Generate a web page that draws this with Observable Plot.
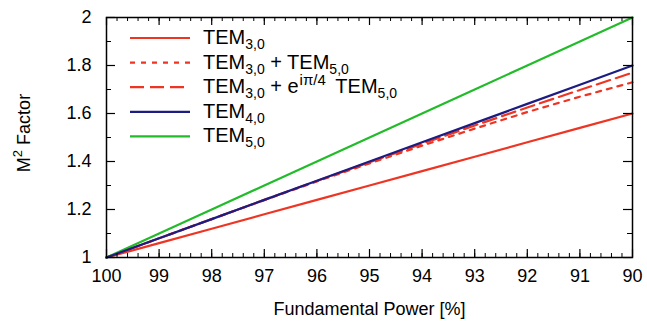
<!DOCTYPE html>
<html><head><meta charset="utf-8">
<script src="https://cdn.jsdelivr.net/npm/d3@7"></script>
<script src="https://cdn.jsdelivr.net/npm/@observablehq/plot@0.6"></script>
<style>
body{margin:0;background:#fff}
svg{font-family:"Liberation Sans",Arial,Helvetica,sans-serif}
</style>
</head><body><div id="chart"></div>
<script>
// ---- data ----
const power = [100, 99, 98, 97, 96, 95, 94, 93, 92, 91, 90];
const tem30 = [1, 1.06, 1.12, 1.18, 1.24, 1.30, 1.36, 1.42, 1.48, 1.54, 1.60];
const tem30plus50 = [1, 1.08, 1.16, 1.239, 1.317, 1.392, 1.466, 1.537, 1.606, 1.670, 1.730];
const tem30phase50 = [1, 1.08, 1.16, 1.24, 1.319, 1.397, 1.474, 1.550, 1.625, 1.698, 1.770];
const tem40 = [1, 1.08, 1.16, 1.24, 1.32, 1.40, 1.48, 1.56, 1.64, 1.72, 1.80];
const tem50 = [1, 1.1, 1.2, 1.3, 1.4, 1.5, 1.6, 1.7, 1.8, 1.9, 2.0];

const xTicks = [100, 99, 98, 97, 96, 95, 94, 93, 92, 91, 90];
const xMinorTicks = d3.range(0, 51).map(i => 100 - i * 0.2);
const yTicks = [1, 1.2, 1.4, 1.6, 1.8, 2];
const yMinorTicks = [1.1, 1.3, 1.5, 1.7, 1.9];

const series = [
  {values: tem30, color: "#ee3524", dash: null, label: [["TEM"], ["3,0", "sub"]]},
  {values: tem30plus50, color: "#ee3524", dash: "5,6", label: [["TEM"], ["3,0", "sub"], [" + TEM"], ["5,0", "sub"]]},
  {values: tem30phase50, color: "#ee3524", dash: "14,6", label: [["TEM"], ["3,0", "sub"], [" + e"], ["iπ/4", "sup"], [" TEM"], ["5,0", "sub"]]},
  {values: tem50, color: "#22bb2a", dash: null, label: [["TEM"], ["5,0", "sub"]]},
  {values: tem40, color: "#1c1c82", dash: null, label: [["TEM"], ["4,0", "sub"]]}
];
const legendOrder = [0, 1, 2, 4, 3];

// ---- layout ----
const W = 647, H = 324, mL = 106, mR = 15, mT = 17, mB = 67;
const innerW = W - mL - mR, innerH = H - mT - mB;

const lineMarks = series.map(s => Plot.line(power.map((p, i) => ({p, v: s.values[i]})), {
  x: "p", y: "v", stroke: s.color, strokeWidth: 2.2,
  strokeDasharray: s.dash ?? undefined
}));

const chart = Plot.plot({
  width: W, height: H,
  marginLeft: mL, marginRight: mR, marginTop: mT, marginBottom: mB,
  x: {domain: [100, 90]},
  y: {domain: [1, 2]},
  style: {fontFamily: '"Liberation Sans",Arial,Helvetica,sans-serif', color: "#000", background: "#fff"},
  marks: [
    ...lineMarks,
    // inward ticks, bottom & top
    Plot.tickX(xMinorTicks, {x: d => d, insetTop: innerH - 4, stroke: "#000", strokeWidth: 1}),
    Plot.tickX(xMinorTicks, {x: d => d, insetBottom: innerH - 4, stroke: "#000", strokeWidth: 1}),
    Plot.tickX(xTicks, {x: d => d, insetTop: innerH - 8, stroke: "#000", strokeWidth: 1.2}),
    Plot.tickX(xTicks, {x: d => d, insetBottom: innerH - 8, stroke: "#000", strokeWidth: 1.2}),
    // inward ticks, left & right
    Plot.tickY(yMinorTicks, {y: d => d, insetRight: innerW - 5, stroke: "#000", strokeWidth: 1}),
    Plot.tickY(yMinorTicks, {y: d => d, insetLeft: innerW - 5, stroke: "#000", strokeWidth: 1}),
    Plot.tickY(yTicks, {y: d => d, insetRight: innerW - 9, stroke: "#000", strokeWidth: 1.2}),
    Plot.tickY(yTicks, {y: d => d, insetLeft: innerW - 9, stroke: "#000", strokeWidth: 1.2}),
    Plot.frame({stroke: "#000", strokeWidth: 1.5}),
    Plot.axisX(xTicks, {anchor: "bottom", tickSize: 0, tickPadding: 12, fontSize: 18, label: null, tickFormat: d => String(d)}),
    Plot.axisY(yTicks, {anchor: "left", tickSize: 0, tickPadding: 15, fontSize: 18, label: null, tickFormat: d => String(d)}),
    Plot.axisX({ticks: [], anchor: "bottom", label: "Fundamental Power [%]", labelAnchor: "center", labelArrow: "none", labelOffset: 57, fontSize: 18})
  ]
});
document.getElementById("chart").appendChild(chart);

const svg = d3.select(chart);
const ff = '"Liberation Sans",Arial,Helvetica,sans-serif';

// y-axis title with superscript
const yt = svg.append("text")
  .attr("transform", `translate(30,${mT + innerH / 2 - 4}) rotate(-90)`)
  .attr("text-anchor", "middle").attr("font-size", 18).attr("font-family", ff).attr("fill", "#000");
yt.append("tspan").text("M");
yt.append("tspan").attr("font-size", 13).attr("dy", -8).text("2");
yt.append("tspan").attr("dy", 8).text(" Factor");

// legend
const lg = svg.append("g").attr("font-family", ff).attr("fill", "#000").attr("text-anchor", "start");
legendOrder.forEach((si, row) => {
  const s = series[si];
  const cy = 38 + row * 24.6;
  lg.append("line").attr("x1", 130).attr("x2", 190).attr("y1", cy).attr("y2", cy)
    .attr("stroke", s.color).attr("stroke-width", 2.2)
    .attr("stroke-dasharray", s.dash);
  const t = lg.append("text").attr("x", 203).attr("y", cy + 6).attr("font-size", 20).attr("text-anchor", "start");
  let shift = 0, prevSup = false;
  s.label.forEach(([txt, kind]) => {
    let target = kind === "sub" ? 5 : kind === "sup" ? -8 : 0;
    const ts = t.append("tspan").attr("dy", target - shift).text(txt);
    if (kind === "sub") ts.attr("font-size", 14);
    if (kind === "sup") ts.attr("font-size", 15).attr("dx", 1);
    if (prevSup) ts.attr("dx", 4);
    prevSup = kind === "sup";
    shift = target;
  });
});
</script>
</body></html>
